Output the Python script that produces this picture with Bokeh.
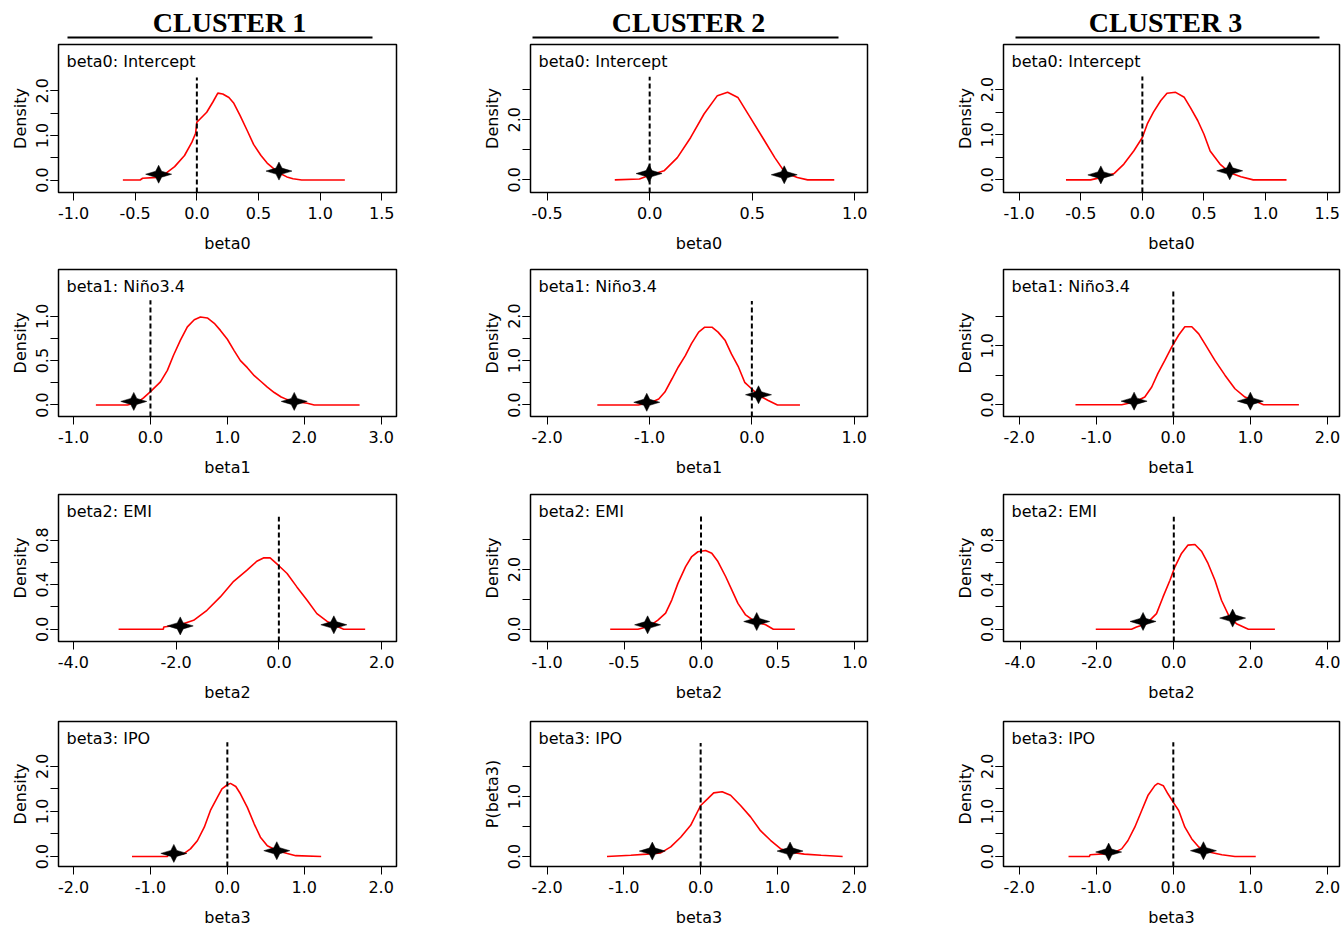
from bokeh.plotting import figure
from bokeh.layouts import column, row
from bokeh.models import Range1d, FixedTicker, PrintfTickFormatter, Label
from bokeh.embed import file_html
from bokeh.resources import INLINE
from bokeh.core.properties import value

# ---------------- data ----------------
clusters = ["CLUSTER 1", "CLUSTER 2", "CLUSTER 3"]
params = ["beta0", "beta1", "beta2", "beta3"]
param_titles = ["beta0: Intercept", "beta1: Niño3.4", "beta2: EMI", "beta3: IPO"]
y_titles = [["Density", "Density", "Density", "Density"],
            ["Density", "Density", "Density", "P(beta3)"],
            ["Density", "Density", "Density", "Density"]]

# posterior density curves
c1_b0_x = [-0.60, -0.46, -0.44, -0.32, -0.26, -0.18, -0.10, -0.04, -0.01, 0.00, 0.03, 0.08, 0.13, 0.17, 0.21, 0.26, 0.30, 0.35, 0.41, 0.46, 0.52, 0.57, 0.63, 0.68, 0.73, 0.78, 0.85, 1.20]
c1_b0_y = [0, 0, 0.04, 0.06, 0.13, 0.30, 0.55, 0.85, 1.05, 1.30, 1.38, 1.52, 1.75, 1.95, 1.93, 1.85, 1.72, 1.45, 1.10, 0.80, 0.55, 0.38, 0.24, 0.14, 0.07, 0.03, 0, 0]
c1_b1_x = [-0.71, -0.30, -0.17, -0.09, 0.00, 0.13, 0.22, 0.30, 0.39, 0.48, 0.57, 0.65, 0.74, 0.83, 0.91, 1.00, 1.09, 1.17, 1.26, 1.35, 1.43, 1.52, 1.61, 1.70, 1.78, 1.87, 2.04, 2.13, 2.72]
c1_b1_y = [0, 0, 0.03, 0.08, 0.15, 0.26, 0.39, 0.56, 0.73, 0.88, 0.96, 0.99, 0.98, 0.92, 0.84, 0.74, 0.61, 0.50, 0.42, 0.33, 0.27, 0.20, 0.14, 0.09, 0.06, 0.04, 0.02, 0, 0]
c1_b2_x = [-3.12, -2.25, -2.24, -1.92, -1.66, -1.40, -1.14, -0.88, -0.62, -0.43, -0.30, -0.17, 0.00, 0.16, 0.35, 0.55, 0.74, 0.94, 1.07, 1.26, 1.68]
c1_b2_y = [0, 0, 0.02, 0.04, 0.08, 0.17, 0.29, 0.43, 0.53, 0.61, 0.64, 0.64, 0.57, 0.50, 0.38, 0.26, 0.14, 0.07, 0.04, 0, 0]
c1_b3_x = [-1.24, -0.78, -0.77, -0.57, -0.48, -0.39, -0.30, -0.22, -0.13, -0.07, 0.00, 0.04, 0.11, 0.17, 0.26, 0.35, 0.43, 0.52, 0.65, 0.78, 0.89, 1.22]
c1_b3_y = [0, 0, 0.03, 0.06, 0.17, 0.35, 0.65, 1.02, 1.31, 1.50, 1.59, 1.62, 1.55, 1.39, 1.09, 0.72, 0.43, 0.24, 0.13, 0.07, 0.02, 0]

c2_b0_x = [-0.17, -0.05, 0.00, 0.07, 0.135, 0.20, 0.265, 0.33, 0.38, 0.43, 0.49, 0.56, 0.61, 0.66, 0.72, 0.77, 0.90]
c2_b0_y = [0, 0.03, 0.15, 0.30, 0.74, 1.41, 2.19, 2.80, 2.91, 2.74, 2.08, 1.30, 0.74, 0.24, 0.08, 0, 0]
c2_b1_x = [-1.51, -1.11, -0.98, -0.91, -0.85, -0.78, -0.72, -0.65, -0.59, -0.52, -0.46, -0.39, -0.33, -0.26, -0.20, -0.13, -0.07, 0.00, 0.07, 0.16, 0.25, 0.47]
c2_b1_y = [0, 0, 0.06, 0.135, 0.29, 0.59, 0.85, 1.11, 1.38, 1.64, 1.75, 1.75, 1.64, 1.45, 1.15, 0.85, 0.51, 0.36, 0.21, 0.10, 0, 0]
c2_b2_x = [-0.59, -0.41, -0.34, -0.28, -0.23, -0.19, -0.15, -0.10, -0.06, -0.02, 0.03, 0.07, 0.11, 0.16, 0.20, 0.24, 0.29, 0.35, 0.42, 0.47, 0.61]
c2_b2_y = [0, 0, 0.09, 0.31, 0.54, 0.98, 1.54, 2.10, 2.44, 2.60, 2.64, 2.55, 2.27, 1.77, 1.32, 0.87, 0.48, 0.26, 0.15, 0, 0]
c2_b3_x = [-1.22, -0.91, -0.70, -0.52, -0.39, -0.26, -0.13, 0.00, 0.09, 0.17, 0.28, 0.39, 0.52, 0.65, 0.78, 0.91, 1.04, 1.17, 1.35, 1.57, 1.85]
c2_b3_y = [0, 0.02, 0.04, 0.06, 0.16, 0.32, 0.52, 0.85, 0.96, 1.06, 1.08, 1.02, 0.85, 0.66, 0.43, 0.27, 0.13, 0.07, 0.04, 0.02, 0]

c3_b0_x = [-0.62, -0.42, -0.34, -0.23, -0.15, -0.07, 0.00, 0.04, 0.09, 0.15, 0.20, 0.27, 0.34, 0.39, 0.45, 0.50, 0.55, 0.63, 0.71, 0.80, 0.90, 1.17]
c3_b0_y = [0, 0, 0.05, 0.14, 0.35, 0.64, 0.94, 1.24, 1.50, 1.76, 1.92, 1.94, 1.83, 1.60, 1.31, 1.01, 0.64, 0.35, 0.16, 0.07, 0, 0]
c3_b1_x = [-1.27, -0.67, -0.50, -0.37, -0.28, -0.20, -0.11, -0.02, 0.07, 0.15, 0.24, 0.33, 0.41, 0.54, 0.67, 0.80, 0.93, 1.07, 1.17, 1.63]
c3_b1_y = [0, 0, 0.045, 0.13, 0.30, 0.53, 0.75, 0.98, 1.18, 1.32, 1.32, 1.20, 1.03, 0.75, 0.50, 0.27, 0.13, 0.06, 0, 0]
c3_b2_x = [-2.03, -1.10, -0.97, -0.71, -0.45, -0.28, -0.10, 0.03, 0.20, 0.37, 0.55, 0.72, 0.89, 1.07, 1.24, 1.46, 1.63, 1.94, 2.63]
c3_b2_y = [0, 0, 0.02, 0.05, 0.14, 0.29, 0.44, 0.56, 0.68, 0.755, 0.76, 0.70, 0.59, 0.44, 0.26, 0.10, 0.05, 0, 0]
c3_b3_x = [-1.36, -1.09, -1.08, -0.80, -0.67, -0.59, -0.50, -0.41, -0.33, -0.24, -0.20, -0.13, -0.07, 0.00, 0.07, 0.15, 0.24, 0.33, 0.46, 0.63, 0.80, 1.07]
c3_b3_y = [0, 0, 0.04, 0.07, 0.17, 0.35, 0.65, 1.02, 1.35, 1.57, 1.62, 1.57, 1.39, 1.20, 1.02, 0.65, 0.39, 0.21, 0.10, 0.04, 0, 0]

# credible-interval bounds (stars): [cluster][param] -> ([x..], [y..])
c1_star_x = [[-0.31, 0.666], [-0.217, 1.87], [-1.92, 1.07], [-0.696, 0.643]]
c1_star_y = [[0.13, 0.20], [0.04, 0.04], [0.03, 0.04], [0.07, 0.13]]
c2_star_x = [[-0.003, 0.656], [-1.027, 0.065], [-0.347, 0.362], [-0.63, 1.165]]
c2_star_y = [[0.21, 0.17], [0.06, 0.23], [0.15, 0.26], [0.09, 0.09]]
c3_star_x = [[-0.337, 0.709], [-0.509, 1.0], [-0.80, 1.53], [-0.839, 0.391]]
c3_star_y = [[0.11, 0.20], [0.06, 0.06], [0.07, 0.10], [0.10, 0.13]]

# zero reference line heights
zero_line_top = [[2.30, 1.18, 1.01, 2.53], [3.43, 2.34, 3.78, 1.89], [2.29, 1.94, 1.01, 2.53]]

# axes
x_ticks = [[[-1.0, -0.5, 0.0, 0.5, 1.0, 1.5], [-1, 0, 1, 2, 3], [-4, -2, 0, 2], [-2, -1, 0, 1, 2]],
           [[-0.5, 0.0, 0.5, 1.0], [-2, -1, 0, 1], [-1.0, -0.5, 0.0, 0.5, 1.0], [-2, -1, 0, 1, 2]],
           [[-1.0, -0.5, 0.0, 0.5, 1.0, 1.5], [-2, -1, 0, 1, 2], [-4, -2, 0, 2, 4], [-2, -1, 0, 1, 2]]]
x_lims = [[(-1.122, 1.619), (-1.196, 3.2), (-4.29, 2.29), (-2.196, 2.2)],
          [(-0.581, 1.062), (-2.163, 1.13), (-1.108, 1.082), (-2.217, 2.174)],
          [(-1.127, 1.60), (-2.204, 2.157), (-4.43, 4.31), (-2.204, 2.157)]]
y_ticks_all = [[[0, 0.5, 1, 1.5, 2], [0, 0.25, 0.5, 0.75, 1], [0, 0.2, 0.4, 0.6, 0.8], [0, 0.5, 1, 1.5, 2]],
               [[0, 1, 2, 3], [0, 0.5, 1, 1.5, 2], [0, 1, 2, 3], [0, 0.5, 1, 1.5]],
               [[0, 0.5, 1, 1.5, 2], [0, 0.5, 1, 1.5], [0, 0.2, 0.4, 0.6, 0.8], [0, 0.5, 1, 1.5, 2]]]
y_ticks_lab = [[[0, 1, 2], [0, 0.5, 1], [0, 0.4, 0.8], [0, 1, 2]],
               [[0, 2], [0, 1, 2], [0, 2], [0, 1]],
               [[0, 1, 2], [0, 1], [0, 0.4, 0.8], [0, 1, 2]]]
y_lims = [[(-0.28, 3.04), (-0.13, 1.526), (-0.11, 1.209), (-0.22, 2.99)],
          [(-0.42, 4.5), (-0.26, 3.05), (-0.41, 4.52), (-0.167, 2.25)],
          [(-0.28, 3.0), (-0.2, 2.29), (-0.11, 1.209), (-0.22, 2.99)]]

curves = {
    (0, 0): (c1_b0_x, c1_b0_y), (0, 1): (c1_b1_x, c1_b1_y), (0, 2): (c1_b2_x, c1_b2_y), (0, 3): (c1_b3_x, c1_b3_y),
    (1, 0): (c2_b0_x, c2_b0_y), (1, 1): (c2_b1_x, c2_b1_y), (1, 2): (c2_b2_x, c2_b2_y), (1, 3): (c2_b3_x, c2_b3_y),
    (2, 0): (c3_b0_x, c3_b0_y), (2, 1): (c3_b1_x, c3_b1_y), (2, 2): (c3_b2_x, c3_b2_y), (2, 3): (c3_b3_x, c3_b3_y),
}
stars_x = [c1_star_x, c2_star_x, c3_star_x]
stars_y = [c1_star_y, c2_star_y, c3_star_y]

# ---------------- layout / style ----------------
FONT = "DejaVu Sans"
FS = "16px"
col_w = [472, 472, 397]
col_bl = [58, 58, 59]
col_br = [76, 77, 2]
row_h = [225, 225, 227, 212]
row_bt = [4, 4, 4, 4]
row_bb = [73, 74, 76, 63]
HEADER_H = 40
title_cx = [229, 688, 1165]
ul_x0 = [67, 532, 1015]
ul_x1 = [372, 838, 1319]

# star glyph shape in pixels (4-pointed)
star_dx = [13, 3, 0, -3, -13, -3, 0, 3]
star_dy = [0, 3, 9, 3, 0, -3, -9, -3]


def style_axis(ax):
    ax.axis_line_color = None
    ax.major_tick_in = 0
    ax.major_tick_out = 8
    ax.major_tick_line_color = "black"
    ax.major_tick_line_width = 1
    ax.major_label_text_font = FONT
    ax.major_label_text_font_size = FS
    ax.major_label_text_color = "black"
    ax.axis_label_text_font = FONT
    ax.axis_label_text_font_size = FS
    ax.axis_label_text_font_style = "normal"
    ax.axis_label_text_color = "black"
    ax.formatter = PrintfTickFormatter(format="%.1f")


def panel(c, r):
    W, H = col_w[c], row_h[r]
    bl, br, bt, bb = col_bl[c], col_br[c], row_bt[r], row_bb[r]
    xl, yl = x_lims[c][r], y_lims[c][r]
    p = figure(width=W, height=H, x_range=Range1d(*xl), y_range=Range1d(*yl),
               output_backend="svg", toolbar_location=None,
               min_border_left=bl, min_border_right=br, min_border_top=bt, min_border_bottom=bb)
    p.grid.visible = False
    p.outline_line_color = "black"
    p.outline_line_width = 1.5
    p.background_fill_color = "white"
    p.border_fill_color = "white"

    xa = p.xaxis[0]
    style_axis(xa)
    xa.ticker = FixedTicker(ticks=x_ticks[c][r])
    xa.minor_tick_line_color = None
    xa.axis_label = params[r]
    xa.major_label_standoff = 6
    xa.axis_label_standoff = 12

    ya = p.yaxis[0]
    style_axis(ya)
    ya.ticker = FixedTicker(ticks=y_ticks_lab[c][r], minor_ticks=y_ticks_all[c][r])
    ya.minor_tick_in = 0
    ya.minor_tick_out = 8
    ya.minor_tick_line_color = "black"
    ya.major_label_orientation = "vertical"
    ya.axis_label = y_titles[c][r]
    ya.major_label_standoff = 2
    ya.axis_label_standoff = 4

    cx, cy = curves[(c, r)]
    p.line(cx, cy, line_color="red", line_width=1.6)
    p.segment(x0=[0], y0=[yl[0]], x1=[0], y1=[zero_line_top[c][r]],
              line_color="black", line_width=2, line_dash="5 3")

    fw = W - bl - br
    fh = H - bt - bb
    ux = (xl[1] - xl[0]) / fw
    uy = (yl[1] - yl[0]) / fh
    sxs = [[sx + d * ux for d in star_dx] for sx in stars_x[c][r]]
    sys_ = [[sy + d * uy for d in star_dy] for sy in stars_y[c][r]]
    p.patches(sxs, sys_, fill_color="black", line_color="black", line_width=0.5)

    p.add_layout(Label(x=xl[0], y=yl[1], x_offset=8, y_offset=-17, text=param_titles[r],
                       text_font=FONT, text_font_size=FS, text_color="black",
                       text_align="left", text_baseline="middle"))
    return p


hdr = figure(width=sum(col_w), height=HEADER_H, x_range=Range1d(0, sum(col_w)),
             y_range=Range1d(HEADER_H, 0), output_backend="svg", toolbar_location=None,
             min_border=0)
hdr.axis.visible = False
hdr.grid.visible = False
hdr.outline_line_color = None
hdr.text(x=title_cx, y=[22, 22, 22], text=clusters, text_font=value("Liberation Serif"),
         text_font_style="bold", text_font_size="28px", text_align="center",
         text_baseline="middle", text_color="black")
hdr.segment(x0=ul_x0, y0=[37, 37, 37], x1=ul_x1, y1=[37, 37, 37], line_color="black", line_width=2)

rows = [row(*[panel(c, r) for c in range(3)]) for r in range(4)]
layout = column(hdr, *rows)

open("out.html", "w").write(file_html(layout, INLINE))
